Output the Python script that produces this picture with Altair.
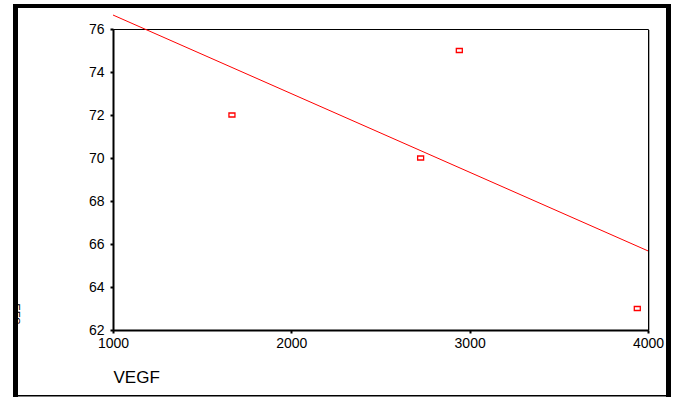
import altair as alt
import pandas as pd

vegf = [1667, 2725, 2942, 3940]
yvals = [72, 70, 75, 63]
x_ticks = [1000, 2000, 3000, 4000]
y_ticks = [62, 64, 66, 68, 70, 72, 74, 76]

df = pd.DataFrame({"VEGF": vegf, "Y": yvals})

FONT = "Liberation Sans"
xs = alt.Scale(domain=[1000, 4000], nice=False, zero=False)
ys = alt.Scale(domain=[62, 76], nice=False, zero=False)

xax = alt.Axis(values=x_ticks, format="d", grid=False, domainColor="black", domainWidth=2,
               tickColor="black", tickWidth=2, tickSize=3, labelFont=FONT, labelFontSize=14,
               labelColor="black", labelPadding=3, labelFlush=False,
               title="VEGF", titleFont=FONT, titleFontSize=17, titleFontWeight="normal",
               titleColor="black", titleAnchor="start", titleAlign="left", titleX=0, titleY=52,
               titleBaseline="alphabetic")
yax = alt.Axis(values=y_ticks, grid=False, domainColor="black", domainWidth=2,
               tickColor="black", tickWidth=2, tickSize=3, labelFont=FONT, labelFontSize=14,
               labelColor="black", labelPadding=6, labelFlush=False, title=None)

base = alt.Chart(df)

points = base.mark_point(
    shape="M-1,-0.67H1V0.67H-1Z", filled=False, color="#ff0000", size=36, opacity=1
).encode(
    x=alt.X("VEGF:Q", scale=xs, axis=xax),
    y=alt.Y("Y:Q", scale=ys, axis=yax),
    strokeWidth=alt.value(1.3),
)

line = base.transform_regression("VEGF", "Y", extent=[1000, 4000]).mark_line(
    color="#ff0000"
).encode(
    x=alt.X("VEGF:Q", scale=xs),
    y=alt.Y("Y:Q", scale=ys),
    strokeWidth=alt.value(1),
)

ghost = alt.Chart(pd.DataFrame({"t": ["EFS"]})).mark_text(
    angle=90, font=FONT, fontSize=11, color="black", align="center", baseline="top"
).encode(text="t:N", x=alt.value(-92), y=alt.value(285))

frame_df = pd.DataFrame({"k": [0]})
fb = alt.Chart(frame_df)


def box(x1, x2, y1, y2, color="black"):
    return fb.mark_rect(color=color, strokeWidth=0, opacity=1).encode(
        x=alt.value(x1), x2=alt.value(x2), y=alt.value(y1), y2=alt.value(y2))


white_cover = box(-113, -99, -29, 369, "white")
left_b = box(-100, -95, -24, 368)
top_b = box(-100, 558, -25, -21)
right_b = box(553, 558, -24, 368)
bottom_b = box(-100, 558, 366, 367.5)
shadow = box(536, 537, 1, 301, "#b0b0b0")

chart = alt.layer(ghost, white_cover, left_b, top_b, right_b, bottom_b, shadow, line, points).properties(
    width=535, height=301,
    autosize=alt.AutoSizeParams(type="none"),
    padding={"left": 113, "top": 29, "right": 30, "bottom": 68},
    background="white",
).configure_view(stroke="black", strokeWidth=1)

chart.save("out.html", embed_options={"renderer": "svg", "actions": False})
